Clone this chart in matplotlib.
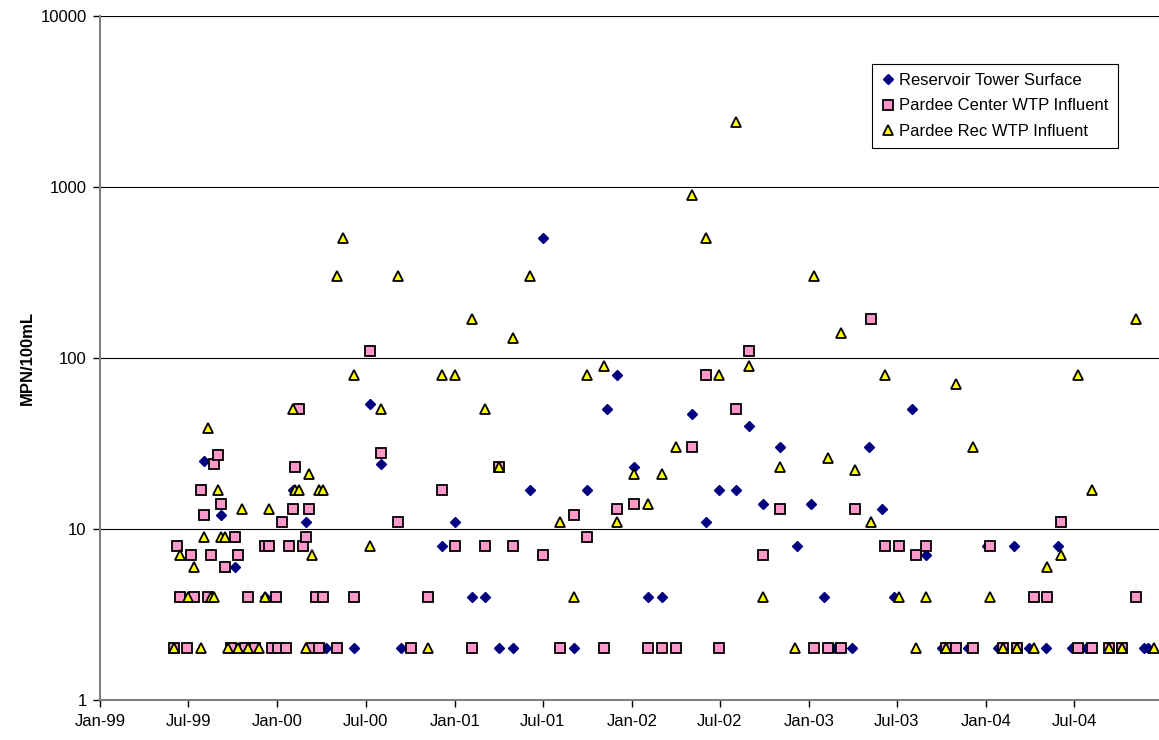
import matplotlib
matplotlib.use('Agg')
import matplotlib.pyplot as plt
import matplotlib.dates as mdates
from matplotlib.ticker import LogLocator, FuncFormatter, NullLocator
import pandas as pd

plt.rcParams['font.family'] = ['Liberation Sans', 'DejaVu Sans']

# Reservoir Tower Surface
tower_dates = [
    '1999-08-03', '1999-09-07', '1999-10-05', '1999-12-06', '2000-02-01', '2000-02-29',
    '2000-04-10', '2000-06-06', '2000-07-10', '2000-08-01', '2000-09-12', '2000-12-05',
    '2001-01-02', '2001-02-05', '2001-03-05', '2001-04-02', '2001-04-30', '2001-06-04',
    '2001-07-02', '2001-09-03', '2001-09-30', '2001-11-11', '2001-12-02', '2002-01-06',
    '2002-02-04', '2002-03-03', '2002-05-05', '2002-06-02', '2002-06-30', '2002-08-04',
    '2002-08-31', '2002-09-29', '2002-11-03', '2002-12-08', '2003-01-05', '2003-02-02',
    '2003-02-24', '2003-03-31', '2003-05-04', '2003-05-31', '2003-06-26', '2003-08-02',
    '2003-08-30', '2003-10-02', '2003-11-26', '2004-01-03', '2004-01-26', '2004-02-28',
    '2004-03-30', '2004-05-04', '2004-05-29', '2004-06-26', '2004-07-25', '2004-11-23',
    '2004-12-01',
]
tower_vals = [
    25, 12, 6, 4, 17, 11,
    2, 2, 54, 24, 2, 8,
    11, 4, 4, 2, 2, 17,
    500, 2, 17, 50, 80, 23,
    4, 4, 47, 11, 17, 17,
    40, 14, 30, 8, 14, 4,
    2, 2, 30, 13, 4, 50,
    7, 2, 2, 8, 2, 8,
    2, 2, 8, 2, 2, 2,
    2,
]

# Pardee Center WTP Influent
center_dates = [
    '1999-06-02', '1999-06-07', '1999-06-15', '1999-06-28', '1999-07-06', '1999-07-13',
    '1999-07-27', '1999-08-03', '1999-08-10', '1999-08-17', '1999-08-24', '1999-08-31',
    '1999-09-07', '1999-09-14', '1999-09-28', '1999-10-05', '1999-10-12', '1999-10-26',
    '1999-11-02', '1999-11-09', '1999-11-16', '1999-12-06', '1999-12-14', '1999-12-21',
    '1999-12-28', '2000-01-03', '2000-01-11', '2000-01-18', '2000-01-25', '2000-02-01',
    '2000-02-07', '2000-02-15', '2000-02-22', '2000-02-29', '2000-03-07', '2000-03-13',
    '2000-03-20', '2000-03-27', '2000-04-04', '2000-05-02', '2000-06-06', '2000-07-10',
    '2000-08-01', '2000-09-05', '2000-10-02', '2000-11-06', '2000-12-05', '2001-01-02',
    '2001-02-05', '2001-03-05', '2001-04-02', '2001-04-30', '2001-07-02', '2001-08-06',
    '2001-09-03', '2001-09-30', '2001-11-05', '2001-12-02', '2002-01-06', '2002-02-04',
    '2002-03-03', '2002-04-01', '2002-05-05', '2002-06-02', '2002-06-30', '2002-08-04',
    '2002-08-31', '2002-09-29', '2002-11-03', '2003-01-11', '2003-02-09', '2003-03-08',
    '2003-04-06', '2003-05-10', '2003-06-07', '2003-07-05', '2003-08-09', '2003-08-30',
    '2003-10-11', '2003-11-01', '2003-12-06', '2004-01-10', '2004-02-06', '2004-03-06',
    '2004-04-10', '2004-05-07', '2004-06-04', '2004-07-09', '2004-08-06', '2004-09-11',
    '2004-10-07', '2004-11-05',
]
center_vals = [
    2, 8, 4, 2, 7, 4,
    17, 12, 4, 7, 24, 27,
    14, 6, 2, 9, 7, 2,
    4, 2, 2, 8, 8, 2,
    4, 2, 11, 2, 8, 13,
    23, 50, 8, 9, 13, 2,
    4, 2, 4, 2, 4, 110,
    28, 11, 2, 4, 17, 8,
    2, 8, 23, 8, 7, 2,
    12, 9, 2, 13, 14, 2,
    2, 2, 30, 80, 2, 50,
    110, 7, 13, 2, 2, 2,
    13, 170, 8, 8, 7, 8,
    2, 2, 2, 8, 2, 2,
    4, 4, 11, 2, 2, 2,
    2, 4,
]

# Pardee Rec WTP Influent
rec_dates = [
    '1999-06-02', '1999-06-15', '1999-06-30', '1999-07-13', '1999-07-27', '1999-08-03',
    '1999-08-10', '1999-08-17', '1999-08-24', '1999-08-31', '1999-09-07', '1999-09-14',
    '1999-09-21', '1999-10-12', '1999-10-19', '1999-11-02', '1999-11-23', '1999-12-06',
    '1999-12-14', '2000-02-01', '2000-02-07', '2000-02-15', '2000-02-29', '2000-03-07',
    '2000-03-13', '2000-03-27', '2000-04-04', '2000-05-02', '2000-05-16', '2000-06-06',
    '2000-07-10', '2000-08-01', '2000-09-05', '2000-11-06', '2000-12-05', '2001-01-02',
    '2001-02-05', '2001-03-05', '2001-04-02', '2001-04-30', '2001-06-04', '2001-08-06',
    '2001-09-03', '2001-09-30', '2001-11-05', '2001-12-02', '2002-01-06', '2002-02-04',
    '2002-03-03', '2002-04-01', '2002-05-05', '2002-06-02', '2002-06-30', '2002-08-04',
    '2002-08-31', '2002-09-29', '2002-11-03', '2002-12-03', '2003-01-11', '2003-02-09',
    '2003-03-08', '2003-04-06', '2003-05-10', '2003-06-07', '2003-07-05', '2003-08-09',
    '2003-08-30', '2003-10-11', '2003-11-01', '2003-12-06', '2004-01-10', '2004-02-06',
    '2004-03-06', '2004-04-10', '2004-05-07', '2004-06-04', '2004-07-09', '2004-08-06',
    '2004-09-11', '2004-10-07', '2004-11-05', '2004-12-13',
]
rec_vals = [
    2, 7, 4, 6, 2, 9,
    39, 4, 4, 17, 9, 9,
    2, 2, 13, 2, 2, 4,
    13, 50, 17, 17, 2, 21,
    7, 17, 17, 300, 500, 80,
    8, 50, 300, 2, 80, 80,
    170, 50, 23, 130, 300, 11,
    4, 80, 90, 11, 21, 14,
    21, 30, 900, 500, 80, 2400,
    90, 4, 23, 2, 300, 26,
    140, 22, 11, 80, 4, 2,
    4, 2, 70, 30, 4, 2,
    2, 2, 6, 7, 80, 17,
    2, 2, 170, 2,
]

fig = plt.figure(figsize=(11.59, 7.40), dpi=100)
ax = fig.add_axes([0.0867, 0.0541, 0.9133, 0.9243])

ax.plot(pd.to_datetime(tower_dates), tower_vals, linestyle='none', marker='D', ms=5,
        mfc='#000080', mec='#000080', label='Reservoir Tower Surface', zorder=3)
ax.plot(pd.to_datetime(center_dates), center_vals, linestyle='none', marker='s', ms=7,
        mfc='#FF99CC', mec='black', mew=1.3, label='Pardee Center WTP Influent', zorder=4)
ax.plot(pd.to_datetime(rec_dates), rec_vals, linestyle='none', marker='^', ms=7.5,
        mfc='#FFFF00', mec='black', mew=1.3, label='Pardee Rec WTP Influent', zorder=5)

ax.set_yscale('log')
ax.set_ylim(1, 10000)
ax.set_xlim(pd.Timestamp('1999-01-01'), pd.Timestamp('2004-12-23'))

ax.xaxis.set_major_locator(mdates.MonthLocator(bymonth=[1, 7]))
ax.xaxis.set_major_formatter(mdates.DateFormatter('%b-%y'))
ax.yaxis.set_major_locator(LogLocator(base=10, numticks=10))
ax.yaxis.set_major_formatter(FuncFormatter(lambda v, p: f'{v:g}'))
ax.yaxis.set_minor_locator(NullLocator())

ax.grid(axis='y', color='black', lw=0.8)
ax.set_axisbelow(True)
for s in ['top', 'right']:
    ax.spines[s].set_visible(False)
for s in ['left', 'bottom']:
    ax.spines[s].set_color('#808080')
    ax.spines[s].set_linewidth(1.5)

ax.tick_params(axis='both', direction='out', length=5, width=1, color='black',
               labelsize=12, pad=5)
ax.set_ylabel('MPN/100mL', fontsize=12, fontweight='bold', labelpad=4)

leg = ax.legend(loc='upper left', bbox_to_anchor=(0.7286, 0.930), fontsize=12,
                frameon=True, fancybox=False, framealpha=1, edgecolor='black',
                handletextpad=0.2, handlelength=0.9, labelspacing=0.62,
                borderpad=0.55, borderaxespad=0)
leg.get_frame().set_linewidth(0.8)

fig.savefig('out.png', dpi=100)
